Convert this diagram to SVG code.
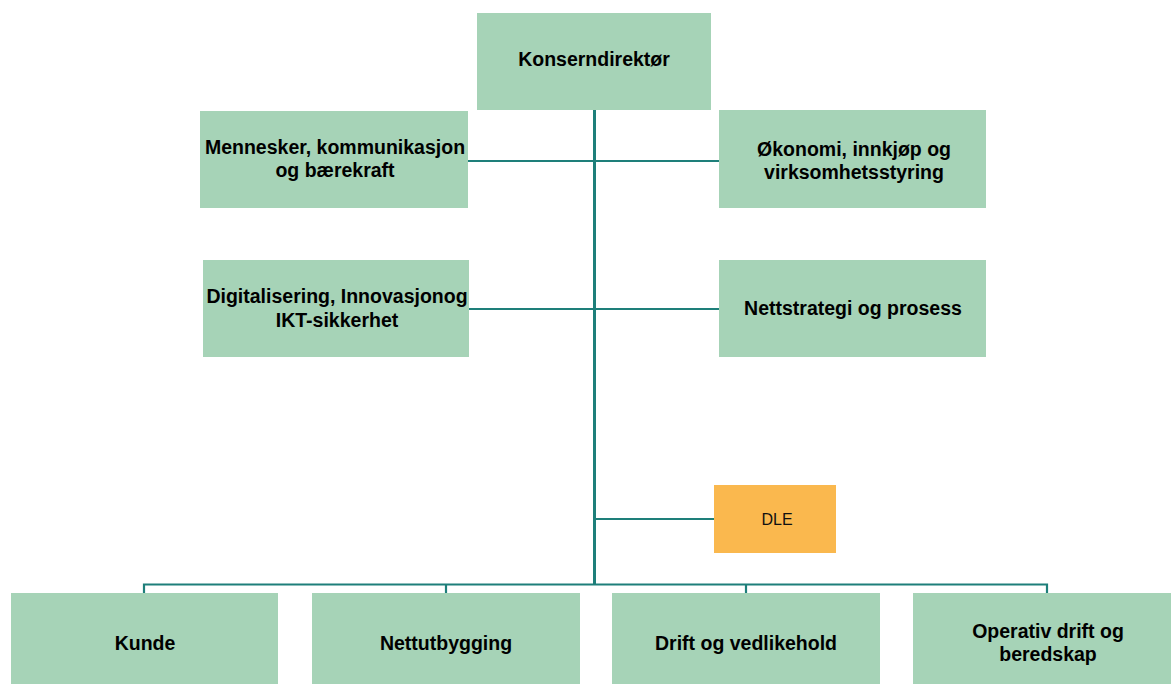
<svg xmlns="http://www.w3.org/2000/svg" width="1171" height="684" viewBox="0 0 1171 684">
<style>
.box{fill:#A6D3B7}
.dle{fill:#FAB84E}
.t{font-family:"Liberation Sans",Arial,sans-serif;font-weight:bold;font-size:19.5px;fill:#000;text-anchor:middle}
.ts{font-family:"Liberation Sans",Arial,sans-serif;font-size:16px;fill:#111;text-anchor:middle}
.ln{stroke:#1E7F7A;stroke-width:2.2;fill:none}
.trunk{stroke:#1E7F7A;stroke-width:3;fill:none}
</style>
<rect width="1171" height="684" fill="#fff"/>
<g id="connectors">
<line class="trunk" x1="594.5" y1="110" x2="594.5" y2="585"/>
<line class="ln" x1="468" y1="161" x2="719" y2="161"/>
<line class="ln" x1="469" y1="309" x2="719" y2="309"/>
<line class="ln" x1="594.5" y1="519" x2="714" y2="519"/>
<polyline class="ln" points="144,593 144,584.5 1047,584.5 1047,593"/>
<line class="ln" x1="446" y1="584.5" x2="446" y2="593"/>
<line class="ln" x1="746" y1="584.5" x2="746" y2="593"/>
</g>
<g id="konserndirektor">
<rect class="box" x="477" y="13" width="234" height="97"/>
<text class="t" x="594" y="66">Konserndirektør</text>
</g>
<g id="mennesker">
<rect class="box" x="200" y="111" width="268" height="97"/>
<text class="t" x="335" y="154">Mennesker, kommunikasjon</text>
<text class="t" x="335" y="177">og bærekraft</text>
</g>
<g id="okonomi">
<rect class="box" x="719" y="110" width="267" height="98"/>
<text class="t" x="854" y="156">Økonomi, innkjøp og</text>
<text class="t" x="854" y="179">virksomhetsstyring</text>
</g>
<g id="digitalisering">
<rect class="box" x="203" y="260" width="266" height="97"/>
<text class="t" x="337" y="303">Digitalisering, Innovasjonog</text>
<text class="t" x="337" y="327">IKT-sikkerhet</text>
</g>
<g id="nettstrategi">
<rect class="box" x="719" y="260" width="267" height="97"/>
<text class="t" x="853" y="315">Nettstrategi og prosess</text>
</g>
<g id="dle">
<rect class="dle" x="714" y="485" width="122" height="68"/>
<text class="ts" x="777" y="525">DLE</text>
</g>
<g id="kunde">
<rect class="box" x="11" y="593" width="267" height="97"/>
<text class="t" x="145" y="650">Kunde</text>
</g>
<g id="nettutbygging">
<rect class="box" x="312" y="593" width="268" height="97"/>
<text class="t" x="446" y="650">Nettutbygging</text>
</g>
<g id="drift">
<rect class="box" x="612" y="593" width="268" height="97"/>
<text class="t" x="746" y="650">Drift og vedlikehold</text>
</g>
<g id="operativ">
<rect class="box" x="913" y="593" width="268" height="97"/>
<text class="t" x="1048" y="638">Operativ drift og</text>
<text class="t" x="1048" y="661">beredskap</text>
</g>
</svg>
